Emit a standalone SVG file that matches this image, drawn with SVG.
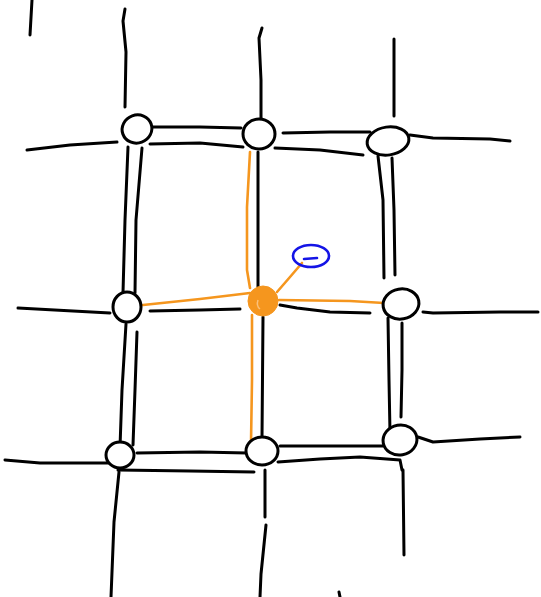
<svg xmlns="http://www.w3.org/2000/svg" width="541" height="597" viewBox="0 0 541 597">
<style>
.k{fill:none;stroke:#000;stroke-width:3;stroke-linecap:round;stroke-linejoin:round}
.o{fill:none;stroke:#F5961E;stroke-width:2.6;stroke-linecap:round;stroke-linejoin:round}
.n{fill:#fff;stroke:#000;stroke-width:3}
</style>
<rect width="541" height="597" fill="#fff"/>
<g id="connectors">
<!-- top stubs -->
<path class="k" d="M32 0 L30 35"/>
<path class="k" d="M125 9 L123 21 L126 52 L125 107"/>
<path class="k" d="M262 28 L259 38 L261 80 L261 119"/>
<path class="k" d="M394 39 L394 116"/>
<!-- top row -->
<path class="k" d="M27 150 L70 145 L117 142"/>
<path class="k" d="M152 127 L200 127 L241 128"/>
<path class="k" d="M150 144 L200 143 L243 147"/>
<path class="k" d="M275 148 L320 150 L363 155"/>
<path class="k" d="M283 133 L330 132 L370 132"/>
<path class="k" d="M410 135 L433 138 L490 139 L510 141"/>
<!-- left column verticals A-D, D-G -->
<path class="k" d="M128 147 L125 220 L123 293"/>
<path class="k" d="M142 148 L136 220 L135 293"/>
<path class="k" d="M126 324 L122 390 L120 447"/>
<path class="k" d="M137 332 L135 390 L133 445"/>
<!-- middle column black -->
<path class="k" d="M258 152 L258 287"/>
<path class="k" d="M263 317 L262 438"/>
<!-- right column verticals C-F, F-I -->
<path class="k" d="M378 156 L383 200 L384 278"/>
<path class="k" d="M392 158 L394 210 L395 275"/>
<path class="k" d="M388 318 L389 380 L390 433"/>
<path class="k" d="M402 323 L402 370 L401 417"/>
<!-- middle row -->
<path class="k" d="M18 308 L73 311 L110 313"/>
<path class="k" d="M150 311 L200 310 L240 309"/>
<path class="k" d="M280 305 L297 308 L330 312 L370 313"/>
<path class="k" d="M423 312 L433 313 L500 312 L538 312"/>
<!-- bottom row -->
<path class="k" d="M5 460 L40 463 L108 463"/>
<path class="k" d="M137 453 L200 452 L247 453"/>
<path class="k" d="M118 470 L190 471 L254 472"/>
<path class="k" d="M280 446 L330 446 L383 446"/>
<path class="k" d="M278 462 L320 459 L360 457 L400 460 L402 470"/>
<path class="k" d="M418 437 L433 442 L480 439 L520 437"/>
<!-- bottom stubs -->
<path class="k" d="M119 472 L114 522 L111 597"/>
<path class="k" d="M265 470 L265 517"/>
<path class="k" d="M266 525 L261 574 L260 597"/>
<path class="k" d="M403 470 L404 555"/>
<path class="k" d="M339 592 L340 597"/>
<!-- orange highlighted connectors -->
<path class="o" d="M250 152 L247 207 L247 270 L250 288"/>
<path class="o" d="M252 315 L252 380 L251 443"/>
<path class="o" d="M143 305 L200 299 L250 293"/>
<path class="o" d="M279 300 L350 301 L384 303"/>
<path class="o" d="M277 292 L290 277 L302 263"/>
</g>
<g id="node-a"><ellipse class="n" cx="137" cy="129" rx="15" ry="14" transform="rotate(-20 137 129)"/></g>
<g id="node-b"><ellipse class="n" cx="259" cy="134" rx="16" ry="15"/></g>
<g id="node-c"><ellipse class="n" cx="388" cy="141" rx="21" ry="14" transform="rotate(-8 388 141)"/></g>
<g id="node-d"><ellipse class="n" cx="127" cy="307" rx="14" ry="15"/></g>
<g id="node-e"><circle cx="263" cy="301" r="15" fill="#F5961E" stroke="#F5961E" stroke-width="1"/><path d="M258 300 Q256 306 260 309" fill="none" stroke="#FBC07A" stroke-width="1.5"/></g>
<g id="node-f"><ellipse class="n" cx="401" cy="304" rx="18" ry="15" transform="rotate(-10 401 304)"/></g>
<g id="node-g"><ellipse class="n" cx="120" cy="455" rx="14" ry="13"/></g>
<g id="node-h"><ellipse class="n" cx="262" cy="451" rx="16" ry="14"/></g>
<g id="node-i"><ellipse class="n" cx="400" cy="440" rx="17" ry="15" transform="rotate(-10 400 440)"/></g>
<g id="node-blue"><ellipse cx="311" cy="256" rx="18" ry="11" fill="none" stroke="#1414E6" stroke-width="2.6"/><path d="M304 259 L317 258" stroke="#1414E6" stroke-width="2.6" stroke-linecap="round"/></g>
</svg>
